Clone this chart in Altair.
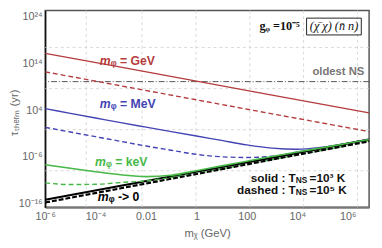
import math
import altair as alt
import pandas as pd

# ---- values (log10 of m_chi in GeV, log10 of tau in yr) ----
m_exp_line = [-6, -3, 0, 3, 6.85]
red_solid = [16.15, 13.2, 10.2, 7.2, 3.4]
red_dashed = [12.2, 9.2, 6.2, 3.2, -0.6]
black_solid = [-15.2, -12.2, -9.2, -6.2, -2.3]
black_dashed = [-15.8, -12.75, -9.7, -6.6, -2.7]

m_exp_curve = [-6, -5, -4, -3, -2, -1, 0, 1, 2, 3, 4, 5, 6, 6.85]
blue_solid = [4.3, 3.3, 2.3, 1.3, 0.35, -0.6, -1.55, -2.5, -3.45, -4.15, -4.4, -3.95, -3.1, -2.25]
blue_dashed = [0.3, -0.7, -1.7, -2.7, -3.7, -4.6, -5.5, -6.0, -6.15, -5.9, -5.0, -4.1, -3.15, -2.35]
green_solid = [-7.7, -8.45, -9.2, -9.85, -10.25, -9.95, -9.0, -7.95, -6.95, -5.95, -4.98, -4.05, -3.12, -2.28]
green_dashed = [-11.6, -11.95, -11.9, -11.5, -11.15, -10.45, -9.55, -8.6, -7.6, -6.6, -5.6, -4.6, -3.55, -2.6]

oldest_ns_exp = 10.1

grid_x_exp = [-4.37, -2.16, -0.02, 2.12, 4.25, 6.39]
grid_y_exp = [17.4, 8.6, -0.2, -9.0]

x_tick_vals = [1e-6, 1e-4, 1e-2, 1, 100, 1e4, 1e6]
x_tick_text = ["10⁻⁶", "10⁻⁴", "0.01", "1", "100", "10⁴", "10⁶"]
y_tick_vals = [1e-16, 1e-6, 1e4, 1e14, 1e24]
y_tick_text = ["10⁻¹⁶", "10⁻⁶", "10⁴", "10¹⁴", "10²⁴"]

RED, BLUE, GREEN = "#b43c3c", "#4343b4", "#48b848"

# curve labels: anchor (log m, log tau), italic part, rest, colour
lab_m = [-3.4, -3.4, -3.59, -3.48]
lab_t = [14.45, 5.25, -7.1, -14.7]
lab_rest = ["ᵩ = GeV", "ᵩ = MeV", "ᵩ = keV", "ᵩ -> 0"]
lab_col = [RED, BLUE, GREEN, "#000000"]

X_DOM = [1e-6, 10 ** 6.85]
Y_DOM = [10 ** -16.8, 10 ** 25.34]
xs = alt.Scale(type="log", domain=X_DOM, nice=False)
ys = alt.Scale(type="log", domain=Y_DOM, nice=False)


def lbl_expr(vals, texts):
    expr = "''"
    for v, t in reversed(list(zip(vals, texts))):
        expr = f"abs(log(datum.value)/log(10) - ({round(math.log10(v))})) < 0.1 ? '{t}' : " + expr
    return expr


X_AXIS = alt.Axis(values=x_tick_vals, labelExpr=lbl_expr(x_tick_vals, x_tick_text),
                  title="mᵪ (GeV)", titleY=27, titleBaseline="middle",
                  domainColor="#777", domainWidth=2, labelPadding=4, labelFlush=False)
Y_AXIS = alt.Axis(values=y_tick_vals, labelExpr=lbl_expr(y_tick_vals, y_tick_text),
                  title="τₜₕₑᵣₘ (yr)", titleX=-31, titleY=104, titleAngle=-90,
                  titleAlign="center", titleBaseline="middle",
                  domainColor="#111", domainWidth=1.5, labelPadding=3)


def X(f):
    return alt.X(f, scale=xs, axis=X_AXIS)


def Y(f):
    return alt.Y(f, scale=ys, axis=Y_AXIS)


def series(mexp, texp):
    return pd.DataFrame({"m": [10 ** e for e in mexp], "tau": [10 ** e for e in texp]})


def line(mexp, texp, color, width, dash=None, interp="monotone"):
    kw = dict(color=color, strokeWidth=width, interpolate=interp, clip=True)
    if dash:
        kw["strokeDash"] = dash
    return alt.Chart(series(mexp, texp)).mark_line(**kw).encode(x=X("m:Q"), y=Y("tau:Q"))


def text(mexp, texp, txt, **kw):
    df = pd.DataFrame({"m": [10 ** e for e in mexp], "tau": [10 ** e for e in texp], "t": txt})
    return alt.Chart(df).mark_text(baseline="middle", **kw).encode(
        x=X("m:Q"), y=Y("tau:Q"), text="t:N"
    )


grid_v = alt.Chart(pd.DataFrame({"m": [10 ** e for e in grid_x_exp]})).mark_rule(
    color="#d0d0d0", strokeDash=[3, 3], strokeWidth=0.8
).encode(x=X("m:Q"))
grid_h = alt.Chart(pd.DataFrame({"tau": [10 ** e for e in grid_y_exp]})).mark_rule(
    color="#d0d0d0", strokeDash=[3, 3], strokeWidth=0.8
).encode(y=Y("tau:Q"))

oldest = alt.Chart(pd.DataFrame({"tau": [10 ** oldest_ns_exp]})).mark_rule(
    color="#555", strokeDash=[6, 2, 1, 2], strokeWidth=1
).encode(y=Y("tau:Q"))

layers = [
    grid_v, grid_h, oldest,
    line(m_exp_line, red_solid, RED, 1.4, interp="linear"),
    line(m_exp_line, red_dashed, RED, 1.4, [5, 3], interp="linear"),
    line(m_exp_curve, blue_solid, BLUE, 1.4),
    line(m_exp_curve, blue_dashed, BLUE, 1.4, [5, 3]),
    line(m_exp_line, black_solid, "#000", 2.2, interp="linear"),
    line(m_exp_curve, green_solid, GREEN, 1.6),
    line(m_exp_curve, green_dashed, GREEN, 1.4, [5, 3]),
    line(m_exp_line, black_dashed, "#000", 2.2, [5, 2], interp="linear"),
]

# curve labels
lab_df = pd.DataFrame({"m": [10 ** e for e in lab_m], "tau": [10 ** e for e in lab_t],
                       "a": ["m"] * 4, "b": lab_rest, "c": lab_col})
for field, align, style in [("a", "right", "italic"), ("b", "left", "normal")]:
    layers.append(
        alt.Chart(lab_df).mark_text(align=align, baseline="middle", fontSize=12.5, fontWeight="bold",
                                    fontStyle=style, font="Liberation Sans").encode(
            x=X("m:Q"), y=Y("tau:Q"),
            text=f"{field}:N", color=alt.Color("c:N", scale=None))
    )

layers += [
    text([6.66], [12.2], ["oldest NS"], align="right", fontSize=11.5, fontWeight="bold",
         color="#777", font="Liberation Sans"),
    text([4.1], [21.9], ["gᵩ =10⁻⁵"], align="right", fontSize=12.5, fontWeight="bold",
         font="Liberation Serif", color="#111"),
    text([5.46], [21.9], ["(χ̄ χ) (n̄ n)"], align="center", fontSize=12.5, fontStyle="italic",
         font="Liberation Serif", color="#111"),
    alt.Chart(pd.DataFrame({"m1": [10 ** 4.37], "m2": [10 ** 6.54], "t1": [10 ** 23.7], "t2": [10 ** 20.1]}))
    .mark_rect(fillOpacity=0, stroke="#222", strokeWidth=1)
    .encode(x=X("m1:Q"), x2="m2:Q", y=Y("t1:Q"), y2="t2:Q"),
    text([3.94, 3.94], [-10.6, -13.2], ["solid :  T", "dashed : T"], align="right", fontSize=12,
         fontWeight="bold", font="Liberation Sans", color="#111"),
    text([3.94, 3.94], [-11.0, -13.6], ["NS", "NS"], align="left", fontSize=8.5,
         fontWeight="bold", font="Liberation Sans", color="#111"),
    text([4.49, 4.49], [-10.6, -13.2], ["=10³ K", "=10⁵ K"], align="left", fontSize=12,
         fontWeight="bold", font="Liberation Sans", color="#111"),
]

chart = (
    alt.layer(*layers)
    .properties(width=331, height=201, autosize=alt.AutoSizeParams(type="none"),
                padding={"left": 38, "top": 0, "right": 5, "bottom": 31})
    .configure_view(stroke="#555", strokeWidth=1.5)
    .configure_axis(grid=False, ticks=False, labelColor="#666", labelFontSize=11,
                    labelFont="Liberation Sans", titleColor="#666", titleFontSize=11.5,
                    titleFont="Liberation Sans", titleFontWeight="normal")
)

chart.save("out.html", embed_options={"renderer": "svg", "actions": False})
